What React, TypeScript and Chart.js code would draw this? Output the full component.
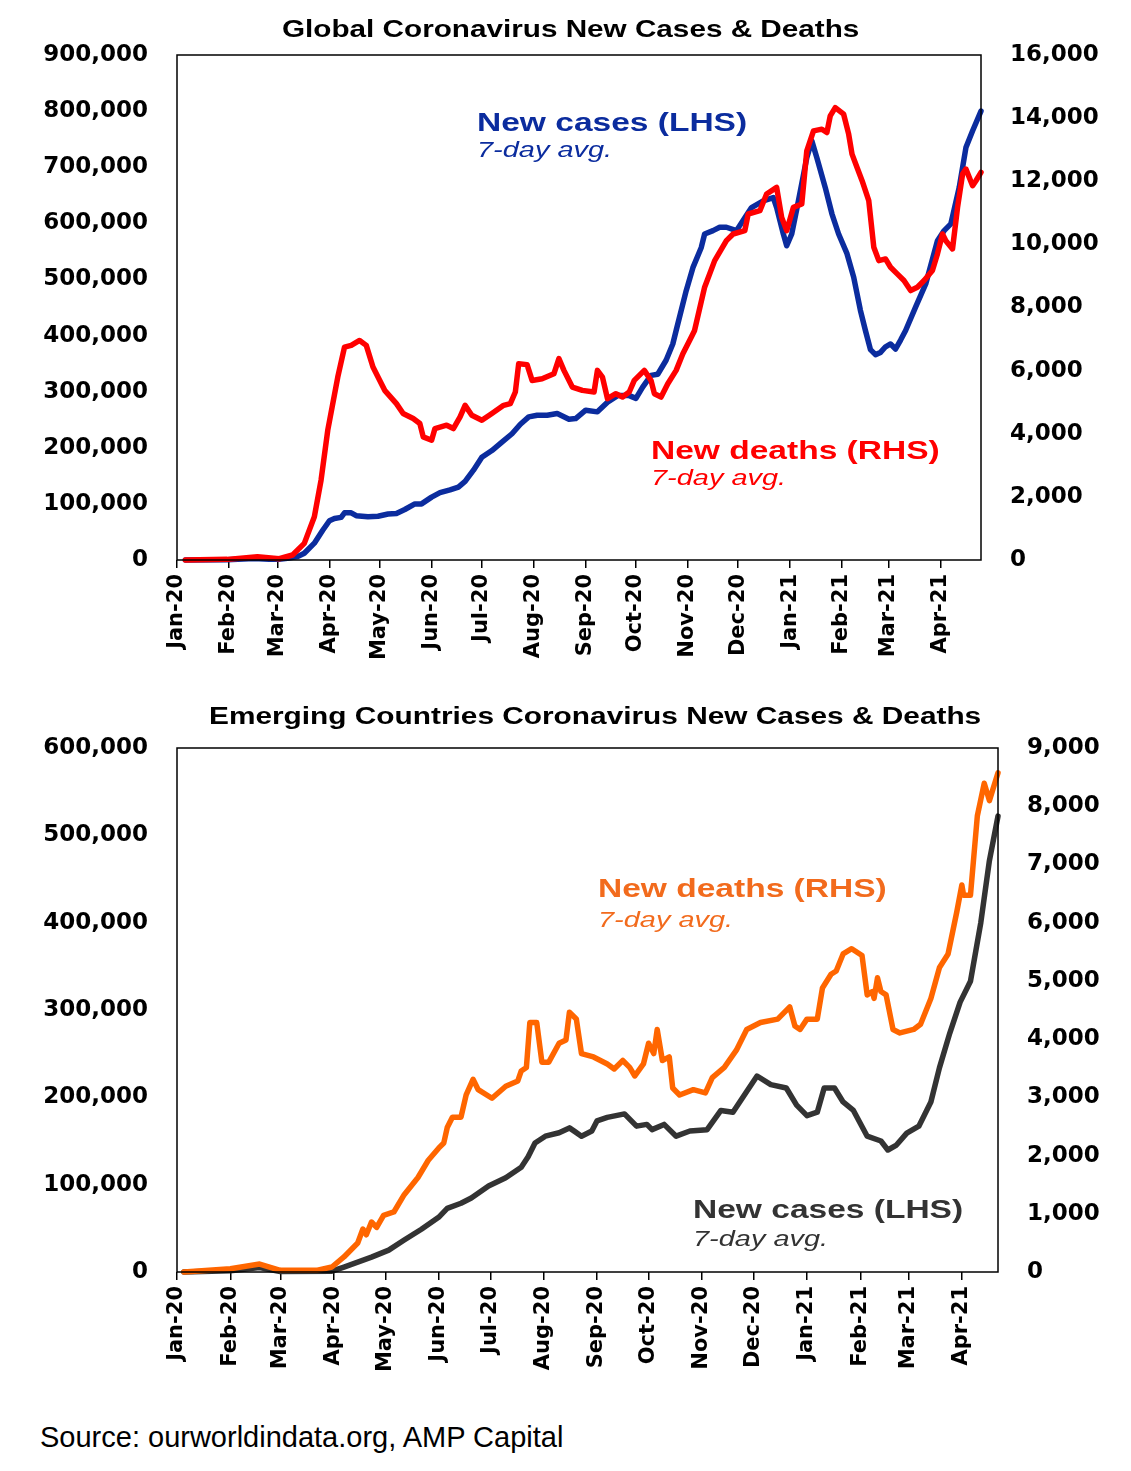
import React, { useEffect, useRef } from 'react';
import { Chart, registerables } from 'chart.js';

Chart.register(...registerables);

// ---------- x axis: days since 1 Jan 2020, ticks at month starts ----------
const monthDays = [0, 31, 60, 91, 121, 152, 182, 213, 244, 274, 305, 335, 366, 397, 425, 456];
const monthLabels = [
  'Jan-20', 'Feb-20', 'Mar-20', 'Apr-20', 'May-20', 'Jun-20', 'Jul-20', 'Aug-20',
  'Sep-20', 'Oct-20', 'Nov-20', 'Dec-20', 'Jan-21', 'Feb-21', 'Mar-21', 'Apr-21',
];

// ---------- Global: new cases (LHS), 7-day avg ----------
const globalCaseDays = [
  5, 30, 46, 55, 61, 66, 72, 76, 82, 87, 91, 94, 98, 100, 104, 107, 114, 120, 126, 131,
  136, 142, 146, 152, 157, 163, 168, 172, 177, 182, 188, 194, 200, 205, 210, 215, 221, 227, 234, 238,
  244, 251, 257, 263, 270, 274, 278, 283, 287, 292, 296, 298, 304, 308, 313, 315, 320, 324, 328, 334,
  339, 343, 350, 356, 358, 362, 364, 367, 371, 376, 379, 382, 387, 391, 395, 400, 404, 408, 411, 414,
  417, 420, 423, 426, 429, 432, 435, 441, 447, 454, 458, 462, 467, 471, 475, 480,
];
const globalCases = [
  0, 500, 2500, 1500, 1500, 3000, 6000, 12000, 30000, 53000, 70000, 74000, 76000, 84000, 84000, 79000, 77000, 78000, 82000, 83000,
  90000, 100000, 100000, 112000, 120000, 125000, 130000, 140000, 160000, 183000, 195000, 210000, 225000, 242000, 255000, 258000, 258000, 261000, 251000, 252000,
  267000, 264000, 281000, 293000, 293000, 288000, 308000, 329000, 331000, 356000, 385000, 409000, 480000, 521000, 557000, 581000, 587000, 593000, 593000, 587000,
  610000, 628000, 640000, 646000, 628000, 581000, 560000, 581000, 640000, 717000, 747000, 717000, 664000, 617000, 581000, 546000, 504000, 445000, 409000, 375000,
  366000, 370000, 380000, 385000, 376000, 392000, 409000, 451000, 492000, 569000, 587000, 599000, 664000, 735000, 765000, 800000,
];

// ---------- Global: new deaths (RHS), 7-day avg ----------
const globalDeathDays = [
  5, 30, 48, 61, 69, 76, 82, 86, 90, 96, 100, 104, 109, 113, 117, 120, 124, 131, 135, 141,
  145, 147, 152, 154, 161, 165, 169, 172, 176, 182, 188, 195, 199, 202, 204, 209, 212, 218, 225, 228,
  231, 236, 242, 249, 251, 254, 257, 262, 266, 270, 273, 279, 283, 285, 289, 293, 298, 302, 307, 309,
  315, 321, 328, 332, 339, 341, 348, 352, 358, 361, 364, 368, 373, 376, 380, 385, 388, 390, 393, 398,
  401, 403, 406, 409, 413, 416, 419, 423, 426, 430, 434, 438, 442, 446, 451, 454, 457, 459, 463, 466,
  469, 471, 475, 477, 480,
];
const globalDeaths = [
  0, 20, 105, 40, 158, 527, 1370, 2530, 4110, 5800, 6745, 6800, 6956, 6800, 6113, 5800, 5375, 4955, 4640, 4481,
  4323, 3900, 3795, 4165, 4270, 4165, 4532, 4900, 4585, 4427, 4640, 4900, 4955, 5322, 6220, 6190, 5690, 5740, 5900, 6380,
  6008, 5480, 5375, 5322, 6008, 5796, 5113, 5270, 5164, 5322, 5690, 6008, 5690, 5270, 5164, 5587, 6008, 6535, 7060, 7273,
  8642, 9486, 10118, 10329, 10435, 10962, 11067, 11595, 11805, 10856, 10435, 11172, 11278, 12964, 13597, 13650, 13543, 14071, 14334, 14124,
  13491, 12859, 12437, 12016, 11383, 9907, 9486, 9539, 9275, 9064, 8854, 8537, 8642, 8854, 9170, 9697, 10330, 10118, 9855, 11172,
  12227, 12385, 11858, 12016, 12279,
];

// ---------- Emerging: new cases (LHS), 7-day avg ----------
const emCaseDays = [
  4, 31, 48, 60, 90, 97, 113, 123, 132, 142, 152, 157, 165, 171, 181, 191, 200, 204, 208, 214,
  222, 228, 231, 235, 241, 244, 250, 260, 267, 273, 276, 283, 290, 298, 308, 316, 323, 331, 337, 345,
  354, 360, 366, 372, 376, 382, 387, 393, 401, 409, 413, 418, 424, 431, 438, 443, 449, 455, 461, 467,
  472, 477,
];
const emCases = [
  0, 1500, 5000, 500, 1000, 5700, 17000, 25000, 36600, 49000, 62600, 72800, 78700, 84700, 98500, 108000, 120000, 132000, 147700, 155500,
  159400, 165000, 161000, 155500, 161400, 173000, 177000, 181000, 167000, 169000, 163000, 169000, 155500, 161400, 163000, 185000, 183000, 206800, 224400, 214600,
  210700, 191000, 179000, 183000, 210700, 210700, 194700, 185000, 155500, 150000, 139700, 145400, 159000, 167000, 194700, 234000, 273600, 309000, 333000, 400000,
  471000, 522000,
];

// ---------- Emerging: new deaths (RHS), 7-day avg ----------
const emDeathDays = [
  4, 31, 48, 60, 81, 90, 97, 105, 108, 110, 113, 116, 120, 126, 132, 140, 146, 152, 155, 157,
  160, 165, 168, 172, 175, 183, 191, 198, 200, 203, 205, 209, 212, 216, 222, 226, 228, 232, 235, 242,
  250, 254, 259, 263, 266, 271, 274, 277, 279, 282, 286, 288, 292, 300, 307, 311, 318, 325, 331, 339,
  349, 356, 359, 362, 366, 372, 375, 380, 383, 387, 392, 398, 401, 404, 405, 407, 409, 412, 416, 420,
  428, 432, 438, 443, 448, 453, 456, 457, 461, 465, 469, 472, 477,
];
const emDeaths = [
  0, 57, 137, 28, 28, 86, 258, 498, 739, 640, 859, 766, 974, 1031, 1328, 1623, 1919, 2127, 2216, 2481,
  2658, 2658, 3041, 3309, 3132, 2984, 3190, 3281, 3453, 3513, 4285, 4285, 3604, 3604, 3929, 3986, 4462, 4347, 3752, 3694,
  3573, 3487, 3633, 3515, 3367, 3573, 3929, 3752, 4166, 3633, 3694, 3161, 3041, 3132, 3075, 3338, 3515, 3810, 4166, 4285,
  4343, 4553, 4226, 4166, 4343, 4343, 4879, 5113, 5171, 5463, 5553, 5436, 4759, 4817, 4699, 5053, 4817, 4759, 4166, 4106,
  4166, 4255, 4699, 5230, 5463, 6176, 6648, 6472, 6472, 7834, 8394, 8097, 8573,
];

const toPoints = (days: number[], vals: number[]) => days.map((d, i) => ({ x: d, y: vals[i] }));
const fmt = (v: any) => Number(v).toLocaleString('en-US');

const frame = {
  id: 'frame',
  afterDraw(chart: any) {
    const { ctx, chartArea: a } = chart;
    ctx.save();
    ctx.strokeStyle = '#000';
    ctx.lineWidth = 1.5;
    ctx.strokeRect(a.left, a.top, a.right - a.left, a.bottom - a.top);
    ctx.restore();
  },
};

type Opt = {
  padTop: number; leftW: number; rightW: number; xH: number; xMax: number;
  yMax: number; yStep: number; y1Max: number; y1Step: number;
};

const tickFont = { family: "'DejaVu Sans', sans-serif", size: 23, weight: 'bold' as const };
const xFont = { family: "'DejaVu Sans', sans-serif", size: 21, weight: 'bold' as const };

function makeOptions(o: Opt): any {
  return {
    animation: false,
    responsive: false,
    maintainAspectRatio: false,
    devicePixelRatio: 1,
    layout: { padding: { top: o.padTop, left: 0, right: 0, bottom: 0 } },
    plugins: { legend: { display: false }, tooltip: { enabled: false }, title: { display: false } },
    elements: {
      point: { radius: 0 },
      line: { borderWidth: 5.5, tension: 0, borderJoinStyle: 'round', borderCapStyle: 'round', fill: false },
    },
    scales: {
      x: {
        type: 'linear',
        position: 'bottom',
        min: 0,
        max: o.xMax,
        afterBuildTicks: (axis: any) => { axis.ticks = monthDays.map((v) => ({ value: v })); },
        afterFit: (axis: any) => { axis.height = o.xH; },
        ticks: {
          autoSkip: false, maxRotation: 90, minRotation: 90, padding: 6, color: '#000', font: xFont,
          callback: (_v: any, i: number) => monthLabels[i] ?? '',
        },
        grid: { display: true, drawOnChartArea: false, drawTicks: true, tickLength: 8, color: '#000', lineWidth: 1.5 },
        border: { display: false },
      },
      y: {
        position: 'left', min: 0, max: o.yMax,
        afterFit: (axis: any) => { axis.width = o.leftW; },
        ticks: { stepSize: o.yStep, padding: 29, color: '#000', font: tickFont, callback: fmt },
        grid: { display: false, drawTicks: false, tickLength: 0 }, border: { display: false },
      },
      y1: {
        position: 'right', min: 0, max: o.y1Max,
        afterFit: (axis: any) => { axis.width = o.rightW; },
        ticks: { stepSize: o.y1Step, padding: 29, color: '#000', font: tickFont, callback: fmt },
        grid: { display: false, drawTicks: false, tickLength: 0 }, border: { display: false },
      },
    },
  };
}

function ChartCanvas({ config, top, height }: { config: any; top: number; height: number }) {
  const ref = useRef<HTMLCanvasElement | null>(null);
  useEffect(() => {
    if (!ref.current) return;
    const chart = new Chart(ref.current, config);
    return () => chart.destroy();
  }, []);
  return (
    <canvas
      ref={ref}
      width={1131}
      height={height}
      style={{ position: 'absolute', left: 0, top, width: 1131, height }}
    />
  );
}

const STRETCH = 1.28;
function Txt(p: {
  left: number; cy: number; size: number; color?: string; bold?: boolean; italic?: boolean;
  stretch?: number; children: React.ReactNode;
}) {
  return (
    <div
      style={{
        position: 'absolute', left: p.left, top: p.cy - 0.49 * p.size, fontSize: p.size, lineHeight: 1,
        fontFamily: "'Liberation Sans', Arial, sans-serif", fontWeight: p.bold ? 'bold' : 'normal',
        fontStyle: p.italic ? 'italic' : 'normal', color: p.color ?? '#000', whiteSpace: 'nowrap',
        transform: `scaleX(${p.stretch ?? STRETCH})`, transformOrigin: '0 50%', pointerEvents: 'none', zIndex: 2,
      }}
    >
      {p.children}
    </div>
  );
}

const BLUE = '#0B2C9E';
const RED = '#FF0000';
const ORANGE = '#FF6600';
const GREY = '#333333';

export default function App() {
  const topConfig = {
    type: 'line',
    data: {
      datasets: [
        { label: 'New deaths (RHS)', data: toPoints(globalDeathDays, globalDeaths), yAxisID: 'y1', borderColor: RED, clip: 5 },
        { label: 'New cases (LHS)', data: toPoints(globalCaseDays, globalCases), yAxisID: 'y', borderColor: BLUE, clip: 5 },
      ],
    },
    options: makeOptions({ padTop: 55, leftW: 177, rightW: 150, xH: 120, xMax: 480, yMax: 900000, yStep: 100000, y1Max: 16000, y1Step: 2000 }),
    plugins: [frame],
  };
  const bottomConfig = {
    type: 'line',
    data: {
      datasets: [
        { label: 'New deaths (RHS)', data: toPoints(emDeathDays, emDeaths), yAxisID: 'y1', borderColor: ORANGE, clip: 5 },
        { label: 'New cases (LHS)', data: toPoints(emCaseDays, emCases), yAxisID: 'y', borderColor: GREY, clip: 5 },
      ],
    },
    options: makeOptions({ padTop: 58, leftW: 177, rightW: 133, xH: 120, xMax: 477, yMax: 600000, yStep: 100000, y1Max: 9000, y1Step: 1000 }),
    plugins: [frame],
  };

  return (
    <div style={{ position: 'absolute', left: 0, top: 0, width: 1131, height: 1471, background: '#fff', overflow: 'hidden' }}>
      <ChartCanvas config={topConfig} top={0} height={680} />
      <ChartCanvas config={bottomConfig} top={690} height={702} />

      <Txt left={282} cy={29} size={23.2} bold>Global Coronavirus New Cases &amp; Deaths</Txt>
      <Txt left={477} cy={122} size={26.2} bold color={BLUE}>New cases (LHS)</Txt>
      <Txt left={477} cy={150} size={22.6} italic color={BLUE}>7-day avg.</Txt>
      <Txt left={651} cy={450} size={26.2} bold color={RED}>New deaths (RHS)</Txt>
      <Txt left={651} cy={478} size={22.6} italic color={RED}>7-day avg.</Txt>

      <Txt left={209} cy={716} size={23.3} bold>Emerging Countries Coronavirus New Cases &amp; Deaths</Txt>
      <Txt left={598} cy={888} size={26.2} bold color="#F26B1D">New deaths (RHS)</Txt>
      <Txt left={598} cy={920} size={22.6} italic color="#F26B1D">7-day avg.</Txt>
      <Txt left={693} cy={1209} size={26.2} bold color={GREY}>New cases (LHS)</Txt>
      <Txt left={693} cy={1239} size={22.6} italic color={GREY}>7-day avg.</Txt>

      <Txt left={40} cy={1437} size={29} stretch={1}>Source: ourworldindata.org, AMP Capital</Txt>
    </div>
  );
}
